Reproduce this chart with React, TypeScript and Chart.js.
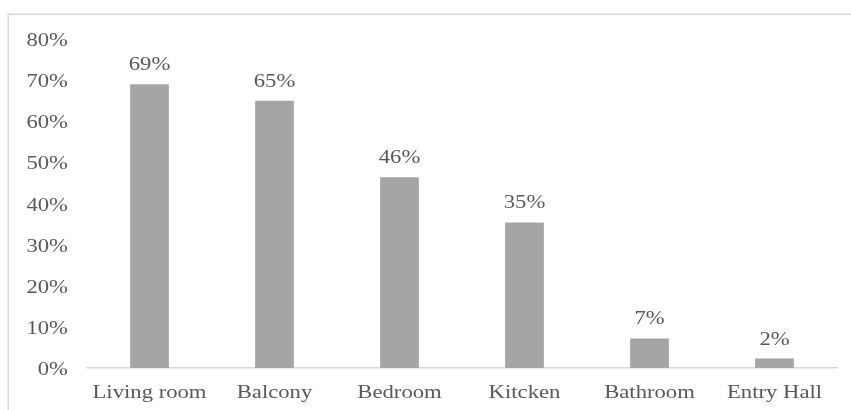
import React, { useEffect, useRef } from "react";
import { Chart, registerables } from "chart.js";

Chart.register(...registerables);

const categories = ["Living room", "Balcony", "Bedroom", "Kitcken", "Bathroom", "Entry Hall"];
const values = [0.69, 0.65, 0.464, 0.354, 0.072, 0.023];
const valueLabels = ["69%", "65%", "46%", "35%", "7%", "2%"];
const yTicks = [0, 0.1, 0.2, 0.3, 0.4, 0.5, 0.6, 0.7, 0.8];
const yTickLabels = ["0%", "10%", "20%", "30%", "40%", "50%", "60%", "70%", "80%"];

const FONT = '18px "Liberation Serif", "Times New Roman", serif';
const TEXT = "#595959";
const SX = 1.26;

function stretchText(ctx: CanvasRenderingContext2D, text: string, x: number, y: number, align: CanvasTextAlign) {
  ctx.save();
  ctx.translate(x, y);
  ctx.scale(SX, 1);
  ctx.textAlign = align;
  ctx.textBaseline = "alphabetic";
  ctx.fillText(text, 0, 0);
  ctx.restore();
}

const labelPlugin = {
  id: "customLabels",
  beforeDraw(chart: any) {
    const ctx = chart.ctx as CanvasRenderingContext2D;
    ctx.save();
    ctx.strokeStyle = "#d9d9d9";
    ctx.lineWidth = 1.5;
    ctx.strokeRect(8.25, 14.25, 1000, 1000);
    ctx.restore();
  },
  afterDraw(chart: any) {
    const ctx = chart.ctx as CanvasRenderingContext2D;
    const xs = chart.scales.x;
    const ys = chart.scales.y;
    ctx.save();
    ctx.font = FONT;
    ctx.fillStyle = TEXT;
    yTicks.forEach((v, i) => {
      const py = ys.getPixelForValue(v);
      stretchText(ctx, yTickLabels[i], 68, py + 7, "right");
    });
    categories.forEach((c, i) => {
      const px = xs.getPixelForValue(i);
      stretchText(ctx, c, px, ys.getPixelForValue(0) + 30, "center");
    });
    const meta = chart.getDatasetMeta(0);
    meta.data.forEach((bar: any, i: number) => {
      stretchText(ctx, valueLabels[i], bar.x, bar.y - 14, "center");
    });
    ctx.restore();
  },
};

export default function App() {
  const ref = useRef<HTMLCanvasElement | null>(null);
  useEffect(() => {
    if (!ref.current) return;
    const chart = new Chart(ref.current, {
      type: "bar",
      data: {
        labels: categories,
        datasets: [
          {
            data: values,
            backgroundColor: "#a5a5a5",
            categoryPercentage: 1,
            barPercentage: 0.31,
          },
        ],
      },
      options: {
        animation: false,
        responsive: false,
        maintainAspectRatio: false,
        layout: { padding: { left: 87, right: 14, top: 39, bottom: 42 } },
        plugins: { legend: { display: false }, tooltip: { enabled: false } },
        scales: {
          x: {
            ticks: { display: false },
            grid: { display: true, color: "rgba(0,0,0,0)", drawTicks: false },
            border: { display: true, color: "#d9d9d9", width: 1.5 },
          },
          y: {
            min: 0,
            max: 0.8,
            ticks: { display: false, stepSize: 0.1 },
            grid: { display: false, drawTicks: false },
            border: { display: false },
          },
        },
      },
      plugins: [labelPlugin],
    });
    return () => chart.destroy();
  }, []);
  return (
    <div style={{ position: "fixed", left: 0, top: 0, width: 851, height: 410, background: "#fff" }}>
      <canvas ref={ref} width={851} height={410} style={{ width: 851, height: 410, display: "block" }} />
    </div>
  );
}
